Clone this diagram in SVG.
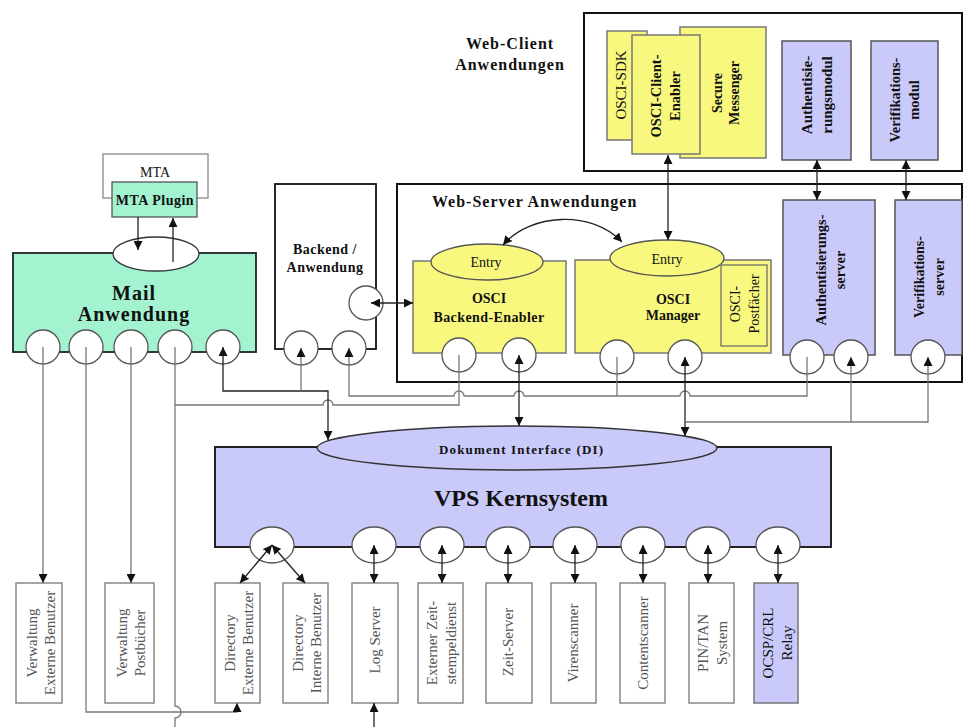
<svg xmlns="http://www.w3.org/2000/svg" width="965" height="727" viewBox="0 0 965 727">
<style>
text{font-family:"Liberation Serif","Times New Roman",serif;fill:#111}
.b{font-weight:bold}
.c{text-anchor:middle}
.r{text-anchor:middle;dominant-baseline:central}
.g{fill:#555}
.conn{fill:none;stroke:#777;stroke-width:1.3}
.arr{fill:none;stroke:#222;stroke-width:1.3}
.port{fill:#fff;stroke:#555;stroke-width:1.3}
.sbox{fill:#fff;stroke:#888;stroke-width:1.5}
.grn{fill:#A3F2D0;stroke:#222;stroke-width:1.8}
.yel{fill:#F8F87E;stroke:#777;stroke-width:1.5}
.pur{fill:#CACAFA;stroke:#555;stroke-width:1.5}
.frame{fill:none;stroke:#111;stroke-width:2}
</style>
<defs>
<marker id="ah" viewBox="0 0 10 10" refX="10" refY="5" markerWidth="9" markerHeight="9" markerUnits="userSpaceOnUse" orient="auto-start-reverse">
<path d="M0,0 L10,5 L0,10 z" fill="#111"/>
</marker>
</defs>

<!-- Web-Client frame -->
<g id="webclient">
<rect class="frame" x="584" y="13" width="378" height="158"/>
<text class="b c" font-size="16" letter-spacing="1" x="510" y="49">Web-Client</text>
<text class="b c" font-size="16" letter-spacing="1" x="510" y="70">Anwendungen</text>
</g>
<g id="osci-sdk">
<rect class="yel" x="607" y="31" width="40" height="109"/>
<text class="r" font-size="15" transform="translate(621,85) rotate(-90)">OSCI-SDK</text>
</g>
<g id="secure-messenger">
<rect class="yel" x="680" y="27" width="86" height="131"/>
<text class="r b" font-size="14" transform="translate(717,93) rotate(-90)">Secure</text>
<text class="r b" font-size="14" transform="translate(734,93) rotate(-90)">Messenger</text>
</g>
<g id="osci-client-enabler">
<rect class="yel" x="632" y="35" width="68" height="119"/>
<text class="r b" font-size="14.5" transform="translate(656,96) rotate(-90)">OSCI-Client-</text>
<text class="r b" font-size="14.5" transform="translate(675,96) rotate(-90)">Enabler</text>
</g>
<g id="auth-modul">
<rect class="pur" x="782" y="41" width="69" height="119"/>
<text class="r b" font-size="15" transform="translate(807,95) rotate(-90)">Authentisie-</text>
<text class="r b" font-size="15" transform="translate(827,95) rotate(-90)">rungsmodul</text>
</g>
<g id="verif-modul">
<rect class="pur" x="871" y="41" width="67" height="119"/>
<text class="r b" font-size="14.5" transform="translate(895,100) rotate(-90)">Verifikations-</text>
<text class="r b" font-size="14.5" transform="translate(914,100) rotate(-90)">modul</text>
</g>

<!-- MTA -->
<g id="mta">
<rect x="103" y="154" width="105" height="44" fill="#fff" stroke="#888" stroke-width="1.3"/>
<text class="c" font-size="14" x="155" y="177">MTA</text>
</g>
<g id="mta-plugin">
<rect x="112" y="182" width="85" height="35" fill="#A3F2D0" stroke="#555" stroke-width="1.3"/>
<text class="c b" font-size="14" letter-spacing="0.5" x="155" y="205">MTA Plugin</text>
</g>

<!-- Mail Anwendung -->
<g id="mail">
<rect class="grn" x="13" y="253" width="243" height="99"/>
<ellipse cx="156" cy="254" rx="43" ry="17" fill="#fff" stroke="#333" stroke-width="1.3"/>
<text class="c b" font-size="20" letter-spacing="1" x="134" y="300">Mail</text>
<text class="c b" font-size="20" letter-spacing="1" x="134" y="321">Anwendung</text>
<circle class="port" cx="43" cy="347" r="17"/>
<circle class="port" cx="86" cy="347" r="17"/>
<circle class="port" cx="131" cy="347" r="17"/>
<circle class="port" cx="175" cy="347" r="17"/>
<circle class="port" cx="223" cy="347" r="17"/>
</g>

<!-- Backend -->
<g id="backend">
<rect x="275" y="184" width="101" height="165" fill="#fff" stroke="#111" stroke-width="1.8"/>
<text class="c b" font-size="14" letter-spacing="0.5" x="325" y="254">Backend /</text>
<text class="c b" font-size="14" letter-spacing="0.5" x="325" y="272">Anwendung</text>
<circle class="port" cx="366" cy="303" r="17"/>
<circle class="port" cx="301" cy="348" r="17"/>
<circle class="port" cx="349" cy="348" r="17"/>
</g>

<!-- Web-Server frame -->
<g id="webserver">
<rect class="frame" x="397" y="184" width="565" height="198"/>
<text class="b" font-size="16" letter-spacing="1" x="432" y="207">Web-Server Anwendungen</text>
</g>
<g id="osci-backend-enabler">
<rect class="yel" x="413" y="261" width="153" height="92"/>
<ellipse cx="487" cy="262" rx="56" ry="18" fill="#F8F87E" stroke="#555" stroke-width="1.3"/>
<text class="c" font-size="14" x="486" y="267">Entry</text>
<text class="c b" font-size="14" x="489" y="303">OSCI</text>
<text class="c b" font-size="14" letter-spacing="0.4" x="489" y="322">Backend-Enabler</text>
<circle class="port" cx="459" cy="355" r="17"/>
<circle class="port" cx="519" cy="355" r="17"/>
</g>
<g id="osci-manager">
<rect class="yel" x="575" y="260" width="196" height="93"/>
<ellipse cx="667" cy="258" rx="57" ry="18" fill="#F8F87E" stroke="#555" stroke-width="1.3"/>
<text class="c" font-size="14" x="667" y="264">Entry</text>
<text class="c b" font-size="14" x="673" y="304">OSCI</text>
<text class="c b" font-size="14" x="673" y="320">Manager</text>
<rect x="721" y="265" width="46" height="81" fill="none" stroke="#666" stroke-width="1.2"/>
<text class="r" font-size="14" transform="translate(735,304) rotate(-90)">OSCI-</text>
<text class="r" font-size="14" transform="translate(754,304) rotate(-90)">Postfächer</text>
<circle class="port" cx="617" cy="357" r="17"/>
<circle class="port" cx="685" cy="357" r="17"/>
</g>
<g id="auth-server">
<rect class="pur" x="783" y="200" width="92" height="155"/>
<text class="r b" font-size="14.5" transform="translate(821,270) rotate(-90)">Authentisierungs-</text>
<text class="r b" font-size="14.5" transform="translate(840,270) rotate(-90)">server</text>
<circle class="port" cx="807" cy="357" r="17"/>
<circle class="port" cx="851" cy="357" r="17"/>
</g>
<g id="verif-server">
<rect class="pur" x="895" y="200" width="67" height="155"/>
<text class="r b" font-size="14" transform="translate(919,277) rotate(-90)">Verifikations-</text>
<text class="r b" font-size="14" transform="translate(939,277) rotate(-90)">server</text>
<circle class="port" cx="928" cy="357" r="17"/>
</g>

<!-- VPS -->
<g id="vps">
<rect x="215" y="447" width="616" height="100" fill="#CACAFA" stroke="#222" stroke-width="2"/>
<ellipse cx="517" cy="448" rx="200" ry="22" fill="#CACAFA" stroke="#333" stroke-width="1.5"/>
<text class="c b" font-size="13" x="521" y="454" textLength="164">Dokument Interface (DI)</text>
<text class="c b" font-size="24" x="521" y="506">VPS Kernsystem</text>
<ellipse class="port" cx="272" cy="545" rx="22" ry="18"/>
<ellipse class="port" cx="374" cy="545" rx="22" ry="18"/>
<ellipse class="port" cx="442" cy="545" rx="22" ry="18"/>
<ellipse class="port" cx="508" cy="545" rx="22" ry="18"/>
<ellipse class="port" cx="575" cy="545" rx="22" ry="18"/>
<ellipse class="port" cx="643" cy="545" rx="22" ry="18"/>
<ellipse class="port" cx="708" cy="545" rx="22" ry="18"/>
<ellipse class="port" cx="778" cy="545" rx="22" ry="18"/>
</g>

<!-- bottom boxes -->
<g id="verwaltung-externe">
<rect class="sbox" x="16" y="583" width="46" height="120"/>
<text class="r g" font-size="15" transform="translate(32,643) rotate(-90)">Verwaltung</text>
<text class="r g" font-size="15" transform="translate(50,643) rotate(-90)">Externe Benutzer</text>
</g>
<g id="verwaltung-postbuecher">
<rect class="sbox" x="105" y="583" width="49" height="120"/>
<text class="r g" font-size="15" transform="translate(122,643) rotate(-90)">Verwaltung</text>
<text class="r g" font-size="15" transform="translate(140,643) rotate(-90)">Postbücher</text>
</g>
<g id="directory-externe">
<rect class="sbox" x="215" y="583" width="45" height="120"/>
<text class="r g" font-size="15" transform="translate(230,643) rotate(-90)">Directory</text>
<text class="r g" font-size="15" transform="translate(248,643) rotate(-90)">Externe Benutzer</text>
</g>
<g id="directory-interne">
<rect class="sbox" x="283" y="583" width="45" height="120"/>
<text class="r g" font-size="15" transform="translate(298,643) rotate(-90)">Directory</text>
<text class="r g" font-size="15" transform="translate(316,643) rotate(-90)">Interne Benutzer</text>
</g>
<g id="log-server">
<rect class="sbox" x="352" y="583" width="46" height="120"/>
<text class="r g" font-size="15" transform="translate(375,640) rotate(-90)">Log Server</text>
</g>
<g id="zeitstempeldienst">
<rect class="sbox" x="418" y="583" width="45" height="120"/>
<text class="r g" font-size="15" transform="translate(432,643) rotate(-90)">Externer Zeit-</text>
<text class="r g" font-size="15" transform="translate(451,643) rotate(-90)">stempeldienst</text>
</g>
<g id="zeit-server">
<rect class="sbox" x="486" y="583" width="46" height="120"/>
<text class="r g" font-size="15" transform="translate(508,642) rotate(-90)">Zeit-Server</text>
</g>
<g id="virenscanner">
<rect class="sbox" x="551" y="583" width="45" height="120"/>
<text class="r g" font-size="15" transform="translate(573,643) rotate(-90)">Virenscanner</text>
</g>
<g id="contentscanner">
<rect class="sbox" x="620" y="583" width="45" height="120"/>
<text class="r g" font-size="15" transform="translate(643,643) rotate(-90)">Contentscanner</text>
</g>
<g id="pin-tan">
<rect class="sbox" x="689" y="583" width="45" height="120"/>
<text class="r g" font-size="15" transform="translate(703,643) rotate(-90)">PIN/TAN</text>
<text class="r g" font-size="15" transform="translate(722,643) rotate(-90)">System</text>
</g>
<g id="ocsp-relay">
<rect x="754" y="583" width="44" height="120" fill="#CACAFA" stroke="#777" stroke-width="1.5"/>
<text class="r" font-size="15" fill="#223" transform="translate(768,643) rotate(-90)">OCSP/CRL</text>
<text class="r" font-size="15" fill="#223" transform="translate(787,643) rotate(-90)">Relay</text>
</g>

<!-- connectors -->
<g id="connectors">
<path class="arr" d="M138,217 V250" marker-end="url(#ah)"/>
<path class="arr" d="M173,262 V218" marker-end="url(#ah)"/>
<path class="conn" d="M43,347 V583" marker-end="url(#ah)"/>
<path class="conn" d="M131,347 V583" marker-end="url(#ah)"/>
<path class="conn" d="M86,347 V712 H237 V703" marker-end="url(#ah)"/>
<path class="conn" d="M175,347 V706 a6,6 0 0,1 0,12 V727"/>
<path class="conn" d="M175,405 H323 a5,5 0 0,1 10,0 H459 V355"/>
<path class="arr" d="M223,347 V391 H328 V440" marker-start="url(#ah)" marker-end="url(#ah)"/>
<path class="conn" d="M301,391 V348" marker-end="url(#ah)"/>
<path class="conn" d="M349,348 V396 H454 a5,5 0 0,1 10,0 H514 a5,5 0 0,1 10,0 H680 a5,5 0 0,1 10,0 H807 V357" marker-start="url(#ah)"/>
<path class="conn" d="M617,357 V396"/>
<path class="arr" d="M519,355 V426" marker-start="url(#ah)" marker-end="url(#ah)"/>
<path class="arr" d="M685,357 V436" marker-start="url(#ah)" marker-end="url(#ah)"/>
<path class="conn" d="M685,422 H928 V357" marker-end="url(#ah)"/>
<path class="conn" d="M851,422 V357" marker-end="url(#ah)"/>
<path class="arr" d="M503,245 C530,213 592,210 622,242" marker-start="url(#ah)" marker-end="url(#ah)"/>
<path class="arr" d="M668,155 V240" marker-start="url(#ah)" marker-end="url(#ah)"/>
<path class="arr" d="M817,160 V200" marker-start="url(#ah)" marker-end="url(#ah)"/>
<path class="arr" d="M906,160 V200" marker-start="url(#ah)" marker-end="url(#ah)"/>
<path class="arr" d="M371,303 H413" marker-start="url(#ah)" marker-end="url(#ah)"/>
<path class="arr" d="M272,545 L240,583" marker-start="url(#ah)" marker-end="url(#ah)"/>
<path class="arr" d="M272,545 L305,583" marker-start="url(#ah)" marker-end="url(#ah)"/>
<path class="arr" d="M374,545 V583" marker-start="url(#ah)" marker-end="url(#ah)"/>
<path class="arr" d="M442,545 V583" marker-start="url(#ah)" marker-end="url(#ah)"/>
<path class="arr" d="M508,545 V583" marker-start="url(#ah)" marker-end="url(#ah)"/>
<path class="arr" d="M575,545 V583" marker-start="url(#ah)" marker-end="url(#ah)"/>
<path class="arr" d="M643,545 V583" marker-start="url(#ah)" marker-end="url(#ah)"/>
<path class="arr" d="M708,545 V583" marker-start="url(#ah)" marker-end="url(#ah)"/>
<path class="arr" d="M778,545 V583" marker-start="url(#ah)" marker-end="url(#ah)"/>
<path class="arr" d="M374,727 V703" marker-end="url(#ah)"/>
</g>
</svg>
